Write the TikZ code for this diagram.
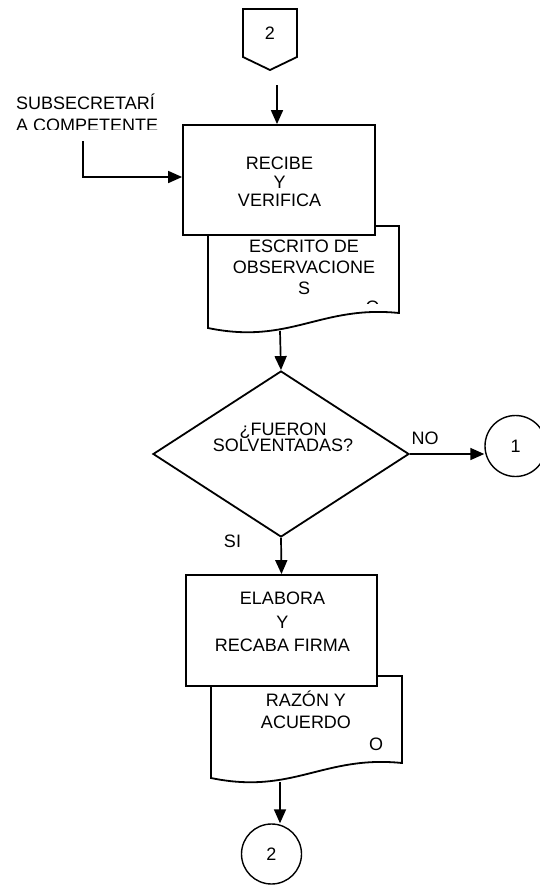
\documentclass[tikz,border=0pt]{standalone}
\usepackage{fontspec}
\setmainfont{Liberation Sans}
\usepackage{tikz}
\usetikzlibrary{shapes.geometric}
\usetikzlibrary{arrows.meta}
\tikzset{
  caja/.style={draw, fill=white, line width=1.8pt, inner sep=0pt},
  hoja/.style={draw, fill=white, line width=1.8pt},
  txt/.style={inner sep=0pt, align=center},
  flecha/.style={-{Triangle[length=14pt,width=12pt]}, line width=1.7pt},
  circulo/.style={circle, draw, fill=white, line width=1.4pt, inner sep=0pt}
}
\lineskiplimit=-100pt

\begin{document}
\begin{tikzpicture}[x=1pt,y=-1pt,font=\fontsize{18}{22}\selectfont]
\useasboundingbox (0,0) rectangle (540,886);

\filldraw[hoja] (243,9) -- (297,9) -- (297,57) -- (270,70) -- (243,57) -- cycle;
\node[txt] (ini) at (270,33.5) {2};

\begin{scope}
\clip (0,0) rectangle (540,129.5);
\node[txt, align=left, anchor=west] (sub) at (16,113) {SUBSECRETARÍ\\A COMPETENTE};
\end{scope}

\filldraw[hoja] (208,226) -- (399,226) -- (399,313) .. controls (320,305) and (290,345) .. (208,328) -- cycle;
\node[txt, font=\fontsize{18}{21}\selectfont] (esc) at (304,267.5) {ESCRITO DE\\OBSERVACIONE\\S};
\begin{scope}
\clip (360,295) rectangle (390,303.5);
\node[txt] (esco) at (372.5,307.5) {O};
\end{scope}

\node[caja, minimum width=192pt, minimum height=110pt] (recibe) at (279,180) {};
\node[txt, font=\fontsize{18}{18.5}\selectfont] (recibetxt) at (279.5,182) {RECIBE\\Y\\VERIFICA};

\node[diamond, draw, line width=1.8pt, inner sep=0pt, shape aspect=1.54,
      minimum width=256pt, minimum height=166pt] (q) at (281,454) {};
\node[txt, font=\fontsize{18}{16}\selectfont] (qtxt) at (283,437.5) {¿FUERON\\SOLVENTADAS?};
\node[txt] (no) at (425,438.5) {NO};
\node[txt] (si) at (232.5,541.5) {SI};

\node[circulo, minimum size=61pt] (c1) at (515.5,446) {1};

\filldraw[hoja] (211,676) -- (402,676) -- (402,763) .. controls (323,755) and (293,795) .. (211,778) -- cycle;
\node[txt] (razon) at (306,710) {RAZÓN Y\\ACUERDO};
\node[txt] (razono) at (376,744.5) {O};

\node[caja, minimum width=191pt, minimum height=111pt] (elabora) at (281.5,630.5) {};
\node[txt, font=\fontsize{18}{23.5}\selectfont] (elaboratxt) at (282.5,622) {ELABORA\\Y\\RECABA FIRMA};

\node[circulo, minimum size=60pt] (c2) at (271.5,854) {2};

\coordinate (inA) at (277,85);
\coordinate (subA) at (83,141);
\coordinate (esc1) at (280,331);
\coordinate (esc2) at (280,782);

\draw[flecha] (inA) -- (inA |- recibe.north);
\draw[flecha] (subA) |- ([yshift=3pt]recibe.west);
\draw[flecha] (esc1) -- (q.north);
\draw[flecha] (q.east) -- (q.east -| c1.west);
\draw[flecha] (q.south) -- (elabora.north);
\draw[flecha] (esc2) -- (esc2 |- c2.north);

\end{tikzpicture}
\end{document}
